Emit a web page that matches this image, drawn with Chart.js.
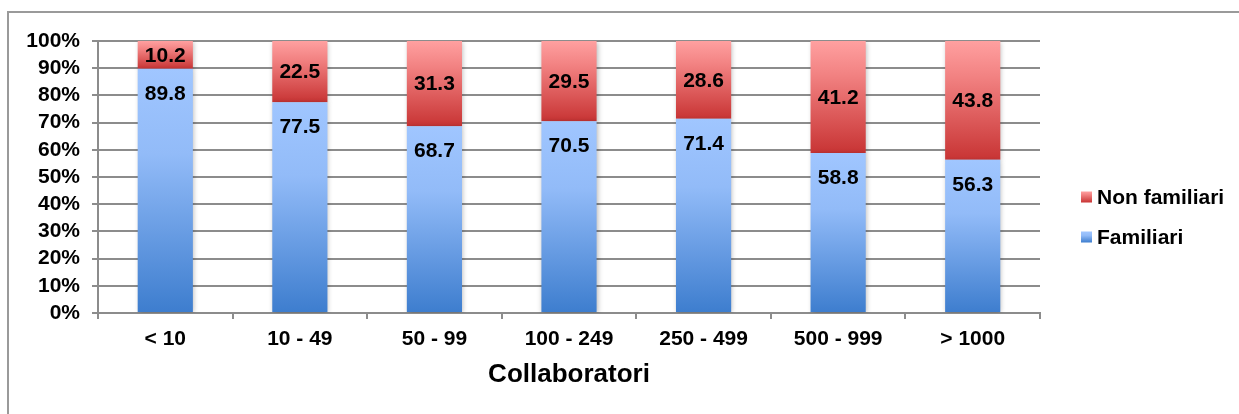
<!DOCTYPE html>
<html>
<head>
<meta charset="utf-8">
<script src="https://cdn.jsdelivr.net/npm/chart.js@4.4.1/dist/chart.umd.min.js"></script>
<style>
  html, body { margin: 0; padding: 0; background: #ffffff; }
  #wrap { position: relative; width: 1239px; height: 414px; }
</style>
</head>
<body>
<div id="wrap"><canvas id="chart" width="1239" height="414"></canvas></div>
<script>
// Company size classes (number of employees)
const categories = ['< 10', '10 - 49', '50 - 99', '100 - 249', '250 - 499', '500 - 999', '> 1000'];
// Share of family-run firms (%)
const familiari = [89.8, 77.5, 68.7, 70.5, 71.4, 58.8, 56.3];
// Share of non family-run firms (%)
const nonFamiliari = [10.2, 22.5, 31.3, 29.5, 28.6, 41.2, 43.8];
// Y axis ticks
const yTicks = [0, 10, 20, 30, 40, 50, 60, 70, 80, 90, 100];
const axisTitle = 'Collaboratori';

const FONT = "'Liberation Sans', Arial, Helvetica, sans-serif";
Chart.defaults.font.family = FONT;
Chart.defaults.color = '#000000';

const palettes = {
  blue: [[0, 'rgb(160,198,255)'], [0.35, 'rgb(146,187,248)'], [1, 'rgb(61,125,206)']],
  red:  [[0, 'rgb(255,160,160)'], [0.3, 'rgb(242,130,130)'], [1, 'rgb(200,52,52)']]
};

function makeGradient(ctx2d, top, bottom, stops) {
  const g = ctx2d.createLinearGradient(0, top, 0, bottom);
  stops.forEach(s => g.addColorStop(s[0], s[1]));
  return g;
}

// Vertical gradient over each stacked segment, from its top edge to its base
function segmentFill(stops, lowerSeries) {
  return (context) => {
    const chart = context.chart;
    const y = chart.scales && chart.scales.y;
    if (!y || context.dataIndex === undefined) return stops[0][1];
    const i = context.dataIndex;
    const base = lowerSeries ? lowerSeries[i] : 0;
    const value = context.dataset.data[i];
    const top = y.getPixelForValue(base + value);
    const bottom = y.getPixelForValue(base);
    if (!isFinite(top) || !isFinite(bottom) || top === bottom) return stops[0][1];
    return makeGradient(chart.ctx, top, bottom, stops);
  };
}

// Outer frame of the chart object
const framePlugin = {
  id: 'frame',
  beforeDraw(chart) {
    const c = chart.ctx;
    c.save();
    c.strokeStyle = '#9a9a9a';
    c.lineWidth = 2;
    c.beginPath();
    c.moveTo(8, 414);
    c.lineTo(8, 12);
    c.lineTo(1239, 12);
    c.stroke();
    c.restore();
  }
};

// Soft drop shadow behind the bars
const shadowPlugin = {
  id: 'barShadow',
  beforeDatasetsDraw(chart) {
    const c = chart.ctx;
    c.save();
    c.shadowColor = 'rgba(0,0,0,0.28)';
    c.shadowBlur = 5;
    c.shadowOffsetX = 1;
    c.shadowOffsetY = 1;
  },
  afterDatasetsDraw(chart) {
    chart.ctx.restore();
  }
};

// Value labels inside the segments
const valueLabels = {
  id: 'valueLabels',
  afterDatasetsDraw(chart) {
    const c = chart.ctx;
    c.save();
    c.font = 'bold 21px ' + FONT;
    c.fillStyle = '#000000';
    c.textAlign = 'center';
    c.textBaseline = 'middle';
    chart.data.datasets.forEach((ds, di) => {
      const meta = chart.getDatasetMeta(di);
      meta.data.forEach((el, i) => {
        const v = ds.data[i];
        const top = Math.min(el.y, el.base);
        const bottom = Math.max(el.y, el.base);
        const ty = ds.labelPos === 'top' ? top + 25 : (top + bottom) / 2 + 1;
        c.fillText(v.toFixed(1), el.x, ty);
      });
    });
    c.restore();
  }
};

// Legend on the right, top entry = upper series
const sideLegend = {
  id: 'sideLegend',
  afterDraw(chart) {
    const c = chart.ctx;
    const items = [
      { ds: chart.data.datasets[1], cy: 197 },
      { ds: chart.data.datasets[0], cy: 237 }
    ];
    c.save();
    c.font = 'bold 21px ' + FONT;
    c.textAlign = 'left';
    c.textBaseline = 'middle';
    items.forEach(it => {
      const x = 1081, s = 11, y0 = it.cy - s / 2;
      c.fillStyle = makeGradient(c, y0, y0 + s, it.ds.legendStops);
      c.fillRect(x, y0, s, s);
      c.fillStyle = '#000000';
      c.fillText(it.ds.label, 1097, it.cy + 1);
    });
    c.restore();
  }
};

new Chart(document.getElementById('chart'), {
  type: 'bar',
  data: {
    labels: categories,
    datasets: [
      {
        label: 'Familiari',
        data: familiari,
        backgroundColor: segmentFill(palettes.blue, null),
        legendStops: palettes.blue,
        labelPos: 'top',
        borderWidth: 0,
        barPercentage: 0.41,
        categoryPercentage: 1.0
      },
      {
        label: 'Non familiari',
        data: nonFamiliari,
        backgroundColor: segmentFill(palettes.red, familiari),
        legendStops: palettes.red,
        labelPos: 'center',
        borderWidth: 0,
        barPercentage: 0.41,
        categoryPercentage: 1.0
      }
    ]
  },
  options: {
    responsive: false,
    animation: false,
    devicePixelRatio: 1,
    layout: { padding: { left: 0, top: 41, right: 199, bottom: 0 } },
    plugins: {
      legend: { display: false },
      tooltip: { enabled: false },
      title: { display: false }
    },
    scales: {
      x: {
        stacked: true,
        grid: {
          offset: true,
          drawOnChartArea: false,
          drawTicks: true,
          tickLength: 6,
          color: '#8c8c8c',
          lineWidth: 2
        },
        border: { display: true, color: '#8c8c8c', width: 2 },
        ticks: {
          font: { size: 21, weight: 'bold' },
          color: '#000000',
          padding: 8,
          maxRotation: 0,
          autoSkip: false
        },
        title: {
          display: true,
          text: axisTitle,
          font: { size: 26, weight: 'bold' },
          color: '#000000',
          padding: { top: 4, bottom: 24 }
        },
        afterFit(scale) { scale.height = 101; }
      },
      y: {
        stacked: true,
        min: 0,
        max: 100,
        afterBuildTicks(scale) { scale.ticks = yTicks.map(v => ({ value: v })); },
        grid: {
          color: '#8c8c8c',
          lineWidth: 2,
          tickLength: 6,
          drawTicks: true
        },
        border: { display: true, color: '#8c8c8c', width: 2 },
        ticks: {
          font: { size: 21, weight: 'bold' },
          color: '#000000',
          padding: 12,
          autoSkip: false,
          callback: (v) => v + '%'
        },
        afterFit(scale) { scale.width = 98; }
      }
    }
  },
  plugins: [framePlugin, shadowPlugin, valueLabels, sideLegend]
});
</script>
</body>
</html>
